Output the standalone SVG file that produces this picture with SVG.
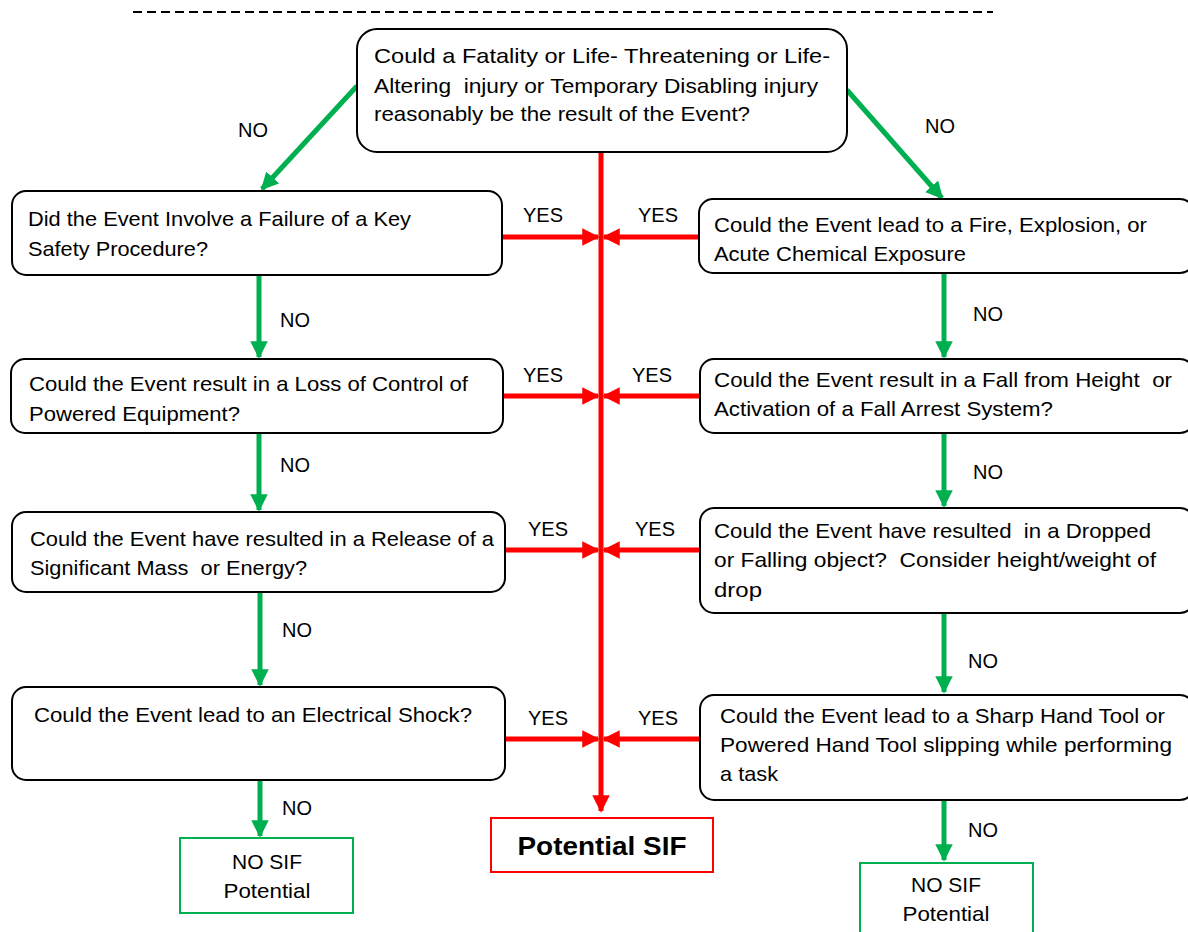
<svg xmlns="http://www.w3.org/2000/svg" width="1188" height="932" viewBox="0 0 1188 932">
<style>
text{font-family:"Liberation Sans",Arial,sans-serif;font-size:21px;fill:#000;white-space:pre}
.q{fill:#fff;stroke:#000;stroke-width:2}
.lbl{font-size:20px}
.g{stroke:#00b050;stroke-width:5;fill:none}
.r{stroke:#ff0000;stroke-width:5;fill:none}
.nosif{fill:#fff;stroke:#00b050;stroke-width:2}
.c{text-anchor:middle}
</style>
<defs>
<marker id="ga" viewBox="0 0 10 10" refX="9" refY="5" markerWidth="3.5" markerHeight="3.5" orient="auto" markerUnits="strokeWidth"><path d="M0,0 L10,5 L0,10 z" fill="#00b050"/></marker>
<marker id="ra" viewBox="0 0 10 10" refX="9" refY="5" markerWidth="3.5" markerHeight="3.5" orient="auto" markerUnits="strokeWidth"><path d="M0,0 L10,5 L0,10 z" fill="#ff0000"/></marker>
</defs>
<line x1="133" y1="12" x2="993" y2="12" stroke="#000" stroke-width="2" stroke-dasharray="9,5"/>

<g id="connectors">
<line class="r" x1="601" y1="152" x2="601" y2="811" marker-end="url(#ra)"/>
<line class="r" x1="502" y1="237" x2="598" y2="237" marker-end="url(#ra)"/>
<line class="r" x1="699" y1="237" x2="604" y2="237" marker-end="url(#ra)"/>
<line class="r" x1="503" y1="396" x2="598" y2="396" marker-end="url(#ra)"/>
<line class="r" x1="700" y1="396" x2="604" y2="396" marker-end="url(#ra)"/>
<line class="r" x1="505" y1="550" x2="598" y2="550" marker-end="url(#ra)"/>
<line class="r" x1="700" y1="550" x2="604" y2="550" marker-end="url(#ra)"/>
<line class="r" x1="505" y1="739" x2="598" y2="739" marker-end="url(#ra)"/>
<line class="r" x1="700" y1="739" x2="604" y2="739" marker-end="url(#ra)"/>
<line class="g" x1="357" y1="86" x2="262" y2="189" marker-end="url(#ga)"/>
<line class="g" x1="847" y1="90" x2="942" y2="198" marker-end="url(#ga)"/>
<line class="g" x1="259" y1="275" x2="259" y2="357" marker-end="url(#ga)"/>
<line class="g" x1="259" y1="433" x2="259" y2="510" marker-end="url(#ga)"/>
<line class="g" x1="260" y1="592" x2="260" y2="685" marker-end="url(#ga)"/>
<line class="g" x1="260" y1="780" x2="260" y2="836" marker-end="url(#ga)"/>
<line class="g" x1="944" y1="273" x2="944" y2="357" marker-end="url(#ga)"/>
<line class="g" x1="944" y1="433" x2="944" y2="506" marker-end="url(#ga)"/>
<line class="g" x1="944" y1="613" x2="944" y2="692" marker-end="url(#ga)"/>
<line class="g" x1="944" y1="800" x2="944" y2="860" marker-end="url(#ga)"/>
<text class="lbl c" x="253" y="137">NO</text>
<text class="lbl c" x="940" y="133">NO</text>
<text class="lbl c" x="295" y="327">NO</text>
<text class="lbl c" x="295" y="472">NO</text>
<text class="lbl c" x="297" y="637">NO</text>
<text class="lbl c" x="297" y="815">NO</text>
<text class="lbl c" x="988" y="321">NO</text>
<text class="lbl c" x="988" y="479">NO</text>
<text class="lbl c" x="983" y="668">NO</text>
<text class="lbl c" x="983" y="837">NO</text>
<text class="lbl c" x="543" y="222">YES</text>
<text class="lbl c" x="658" y="222">YES</text>
<text class="lbl c" x="543" y="382">YES</text>
<text class="lbl c" x="652" y="382">YES</text>
<text class="lbl c" x="548" y="536">YES</text>
<text class="lbl c" x="655" y="536">YES</text>
<text class="lbl c" x="548" y="725">YES</text>
<text class="lbl c" x="658" y="725">YES</text>
</g>

<g id="n0">
<rect class="q" x="357" y="29" width="490" height="123" rx="20"/>
<text x="374" y="63" textLength="456" lengthAdjust="spacingAndGlyphs">Could a Fatality or Life- Threatening or Life-</text>
<text x="374" y="93" textLength="444" lengthAdjust="spacingAndGlyphs">Altering  injury or Temporary Disabling injury</text>
<text x="374" y="121" textLength="376" lengthAdjust="spacingAndGlyphs">reasonably be the result of the Event?</text>
</g>
<g id="l1">
<rect class="q" x="12" y="191" width="490" height="84" rx="14"/>
<text x="28" y="226" textLength="383" lengthAdjust="spacingAndGlyphs">Did the Event Involve a Failure of a Key</text>
<text x="28" y="256" textLength="180" lengthAdjust="spacingAndGlyphs">Safety Procedure?</text>
</g>
<g id="l2">
<rect class="q" x="11" y="359" width="492" height="74" rx="14"/>
<text x="29" y="391" textLength="439" lengthAdjust="spacingAndGlyphs">Could the Event result in a Loss of Control of</text>
<text x="29" y="421" textLength="211" lengthAdjust="spacingAndGlyphs">Powered Equipment?</text>
</g>
<g id="l3">
<rect class="q" x="12" y="512" width="493" height="80" rx="14"/>
<text x="30" y="546" textLength="464" lengthAdjust="spacingAndGlyphs">Could the Event have resulted in a Release of a</text>
<text x="30" y="575" textLength="277" lengthAdjust="spacingAndGlyphs">Significant Mass  or Energy?</text>
</g>
<g id="l4">
<rect class="q" x="12" y="687" width="493" height="93" rx="14"/>
<text x="34" y="722" textLength="438" lengthAdjust="spacingAndGlyphs">Could the Event lead to an Electrical Shock?</text>
</g>
<g id="r1">
<rect class="q" x="699" y="199" width="495" height="74" rx="14"/>
<text x="714" y="232" textLength="433" lengthAdjust="spacingAndGlyphs">Could the Event lead to a Fire, Explosion, or</text>
<text x="714" y="261" textLength="252" lengthAdjust="spacingAndGlyphs">Acute Chemical Exposure</text>
</g>
<g id="r2">
<rect class="q" x="700" y="359" width="494" height="74" rx="14"/>
<text x="714" y="387" textLength="458" lengthAdjust="spacingAndGlyphs">Could the Event result in a Fall from Height  or</text>
<text x="714" y="416" textLength="339" lengthAdjust="spacingAndGlyphs">Activation of a Fall Arrest System?</text>
</g>
<g id="r3">
<rect class="q" x="700" y="508" width="494" height="105" rx="14"/>
<text x="714" y="538" textLength="437" lengthAdjust="spacingAndGlyphs">Could the Event have resulted  in a Dropped</text>
<text x="714" y="567" textLength="442" lengthAdjust="spacingAndGlyphs">or Falling object?  Consider height/weight of</text>
<text x="714" y="597" textLength="48" lengthAdjust="spacingAndGlyphs">drop</text>
</g>
<g id="r4">
<rect class="q" x="700" y="695" width="494" height="105" rx="14"/>
<text x="720" y="723" textLength="445" lengthAdjust="spacingAndGlyphs">Could the Event lead to a Sharp Hand Tool or</text>
<text x="720" y="752" textLength="452" lengthAdjust="spacingAndGlyphs">Powered Hand Tool slipping while performing</text>
<text x="720" y="781" textLength="58" lengthAdjust="spacingAndGlyphs">a task</text>
</g>
<g id="nosif-left">
<rect class="nosif" x="180" y="838" width="173" height="75"/>
<text class="c" x="267" y="869">NO SIF</text>
<text class="c" x="267" y="898" textLength="87" lengthAdjust="spacingAndGlyphs">Potential</text>
</g>
<g id="nosif-right">
<rect class="nosif" x="860" y="863" width="173" height="80"/>
<text class="c" x="946" y="892">NO SIF</text>
<text class="c" x="946" y="921" textLength="87" lengthAdjust="spacingAndGlyphs">Potential</text>
</g>
<g id="potential-sif">
<rect x="491" y="818" width="222" height="54" fill="#fff" stroke="#ff0000" stroke-width="2"/>
<text class="c" x="602" y="855" textLength="169" lengthAdjust="spacingAndGlyphs" style="font-weight:bold;font-size:26px">Potential SIF</text>
</g>
</svg>
